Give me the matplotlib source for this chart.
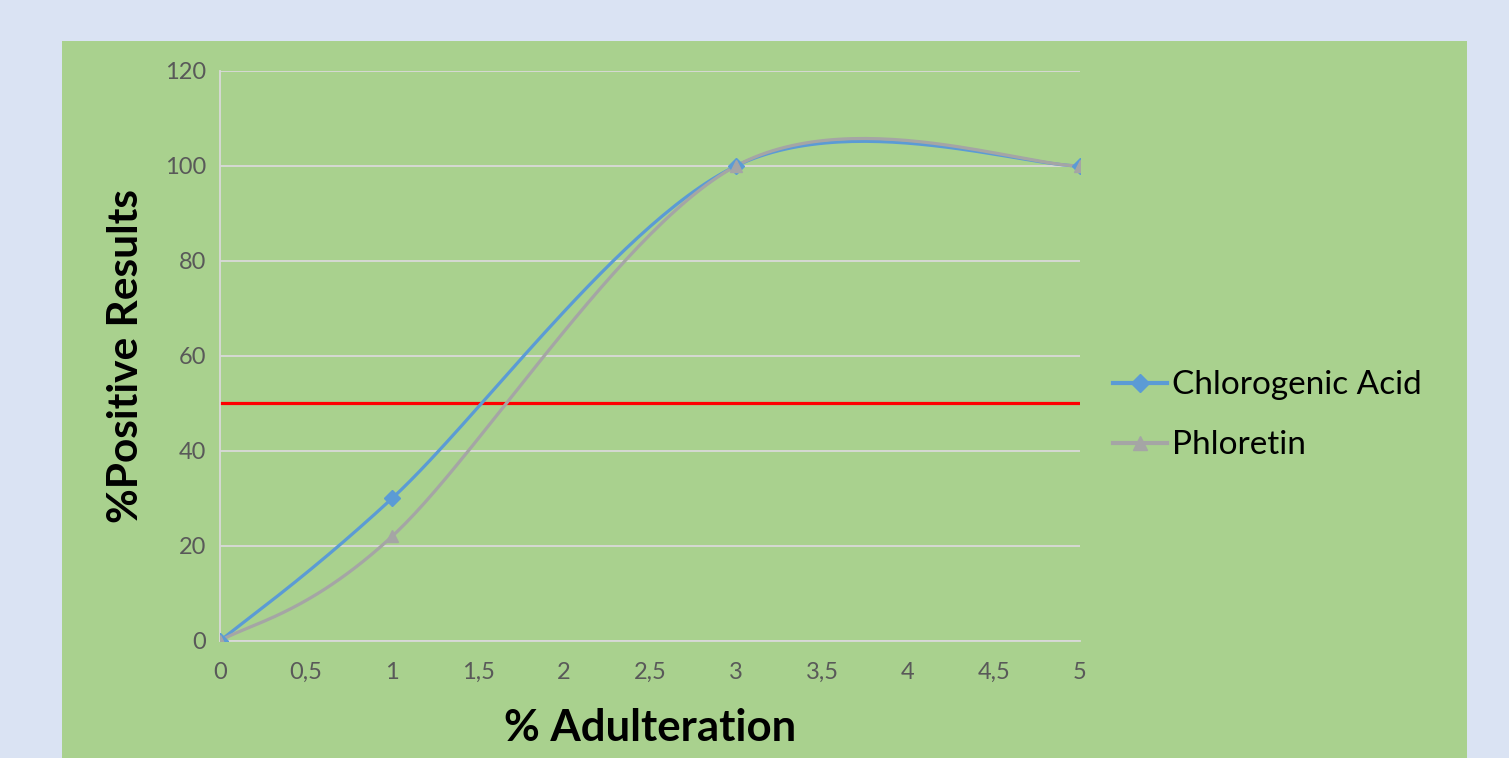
import numpy as np
import matplotlib.pyplot as plt
from matplotlib.patches import Rectangle

# Data
adulteration = [0, 1, 3, 5]
chlorogenic = [0, 30, 100, 100]
phloretin = [0, 22, 100, 100]
threshold = 50
x_ticks = [0, 0.5, 1, 1.5, 2, 2.5, 3, 3.5, 4, 4.5, 5]
x_tick_labels = ["0", "0,5", "1", "1,5", "2", "2,5", "3", "3,5", "4", "4,5", "5"]
y_ticks = [0, 20, 40, 60, 80, 100, 120]

plt.rcParams['font.family'] = ['Lato', 'DejaVu Sans']


def smooth(xs, ys, n=60):
    # Excel-like smoothed line: cubic Bezier segments (Catmull-Rom tangents)
    p = np.column_stack([xs, ys]).astype(float)
    ext = np.vstack([p[0], p, p[-1]])
    out = [p[:1]]
    t = np.linspace(0, 1, n)[1:, None]
    for i in range(len(p) - 1):
        p0, p1, p2, p3 = ext[i], ext[i + 1], ext[i + 2], ext[i + 3]
        c1 = p1 + (p2 - p0) / 6
        c2 = p2 - (p3 - p1) / 6
        seg = ((1 - t) ** 3) * p1 + 3 * ((1 - t) ** 2) * t * c1 + 3 * (1 - t) * t ** 2 * c2 + t ** 3 * p2
        out.append(seg)
    s = np.vstack(out)
    return s[:, 0], s[:, 1]


fig = plt.figure(figsize=(15.09, 7.58), dpi=100)
fig.patch.set_facecolor('#DAE3F3')
fig.patches.append(Rectangle((0.0411, 0), 0.9311, 0.9459, transform=fig.transFigure,
                             facecolor='#A9D18E', edgecolor='none', zorder=-1))

ax = fig.add_axes([0.1458, 0.1544, 0.5699, 0.752])
ax.set_facecolor('none')

blue = '#5B9BD5'
gray = '#A5A5A5'

sx, sy = smooth(adulteration, chlorogenic)
ax.plot(sx, sy, color=blue, lw=2.3, zorder=3)
ax.plot(adulteration, chlorogenic, ls='none', marker='D', ms=8, color=blue, zorder=4)
px, py = smooth(adulteration, phloretin)
ax.plot(px, py, color=gray, lw=2.3, zorder=3)
ax.plot(adulteration, phloretin, ls='none', marker='^', ms=9, color=gray, zorder=4)
ax.plot([adulteration[0], adulteration[-1]], [threshold, threshold], color='#FF0000', lw=2.3, zorder=2)

# legend handles
ax.plot([], [], color=blue, lw=3, marker='D', ms=9, label='Chlorogenic Acid')
ax.plot([], [], color=gray, lw=3, marker='^', ms=10, label='Phloretin')

ax.set_xlim(0, 5)
ax.set_ylim(0, 120)
ax.set_xticks(x_ticks)
ax.set_xticklabels(x_tick_labels)
ax.set_yticks(y_ticks)
ax.tick_params(length=0, labelsize=17, labelcolor='#595959')
ax.tick_params(axis='y', pad=10)
ax.tick_params(axis='x', pad=15)
ax.yaxis.grid(True, color='#D9D9D9', lw=1.3)
ax.set_axisbelow(True)
for side in ['top', 'right']:
    ax.spines[side].set_visible(False)
ax.spines['left'].set_color('#D9D9D9')
ax.spines['bottom'].set_color('#D9D9D9')
ax.spines['left'].set_linewidth(1.3)
ax.spines['bottom'].set_linewidth(1.3)

ax.set_xlabel('% Adulteration', fontsize=31.5, fontweight='bold', labelpad=18)
ax.set_ylabel('%Positive Results', fontsize=30.5, fontweight='bold', labelpad=14)

handles, labels = ax.get_legend_handles_labels()
fig.legend(handles[-2:], labels[-2:], loc='center left', bbox_to_anchor=(0.718, 0.452),
           frameon=False, fontsize=24, handlelength=1.6, handletextpad=0.15, labelspacing=0.9)

fig.savefig('out.png', dpi=100, facecolor=fig.get_facecolor())
